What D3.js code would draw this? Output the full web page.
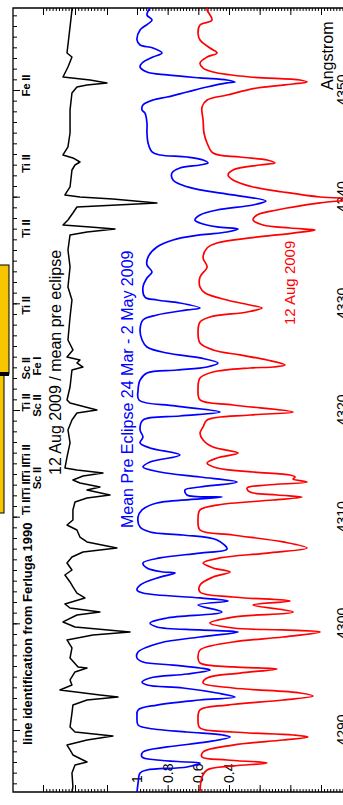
<!DOCTYPE html>
<html>
<head>
<meta charset="utf-8">
<script src="https://cdn.jsdelivr.net/npm/d3@7"></script>
<style>
  html, body { margin: 0; padding: 0; background: #fff; }
  svg { display: block; font-family: "Liberation Sans", Arial, sans-serif; }
</style>
</head>
<body>
<svg id="chart"></svg>
<script>
// wavelength (Angstrom) and normalised flux
const blueWave = [4284.19,4285.03,4285.97,4286.25,4286.53,4286.91,4287.0,4287.19,4287.47,4287.94,4288.41,4288.88,4289.34,4289.53,4289.81,4290.19,4290.47,4291.22,4291.88,4292.34,4292.81,4293.09,4293.47,4293.94,4294.22,4294.5,4294.88,4295.25,4295.63,4295.81,4296.09,4296.38,4296.75,4297.31,4298.16,4298.72,4299.19,4299.38,4299.66,4300.03,4300.5,4301.06,4301.72,4302.09,4302.38,4302.84,4303.13,4303.59,4304.25,4304.72,4304.81,4305.19,4305.66,4306.13,4306.59,4306.97,4307.81,4308.28,4308.56,4309.03,4309.97,4310.63,4311.28,4311.66,4311.84,4312.03,4312.5,4312.78,4313.25,4313.72,4314.19,4314.66,4315.13,4315.78,4316.44,4316.91,4317.47,4318.13,4319.06,4319.44,4319.81,4320.38,4320.94,4321.88,4322.81,4323.47,4323.75,4324.03,4324.41,4324.88,4325.34,4325.91,4326.56,4327.5,4328.44,4328.91,4329.38,4329.56,4330.03,4330.31,4330.59,4331.53,4332.38,4332.94,4333.59,4334.34,4335.28,4335.94,4336.41,4336.69,4336.97,4337.16,4337.53,4337.81,4338.28,4338.75,4339.22,4339.59,4340.16,4340.63,4341.09,4341.56,4342.22,4342.69,4342.97,4343.16,4343.44,4343.72,4343.91,4344.19,4345.03,4345.97,4346.91,4347.84,4348.13,4348.59,4349.06,4349.34,4349.81,4350.28,4350.66,4350.75,4350.94,4351.13,4351.41,4351.69,4352.16,4352.53,4353.09,4353.47,4353.94,4354.22,4354.69,4355.63,4356.56,4357.03,4357.69];
const blueFlux = [1.00,0.993,0.980,0.935,0.674,0.589,0.674,0.870,0.967,0.961,0.804,0.543,0.393,0.439,0.674,0.935,0.993,1.00,0.993,0.870,0.589,0.361,0.478,0.700,0.935,0.967,0.915,0.674,0.524,0.589,0.765,0.961,1.00,0.993,0.850,0.589,0.341,0.589,0.870,0.915,0.804,0.446,0.602,0.406,0.589,0.961,1.00,0.980,0.870,0.752,0.830,0.935,0.961,0.850,0.589,0.413,0.478,0.700,0.915,0.980,0.993,0.967,0.870,0.589,0.446,0.674,0.687,0.589,0.348,0.589,0.850,0.961,0.915,0.720,0.915,0.980,0.961,0.980,0.961,0.720,0.459,0.752,0.987,0.993,0.980,0.935,0.739,0.543,0.472,0.589,0.804,0.935,0.967,0.980,0.961,0.870,0.674,0.589,0.720,0.870,0.948,0.961,0.935,0.902,0.935,0.928,0.870,0.765,0.589,0.413,0.341,0.478,0.589,0.622,0.589,0.478,0.243,0.159,0.374,0.589,0.706,0.765,0.772,0.720,0.589,0.537,0.569,0.674,0.850,0.902,0.928,0.935,0.935,0.948,0.967,0.961,0.896,0.804,0.674,0.543,0.413,0.361,0.413,0.589,0.804,0.935,0.980,0.967,0.896,0.837,0.896,0.980,1.00,0.980,0.902,0.935,0.915];

const redWave = [4284.19,4285.59,4286.25,4286.63,4286.91,4287.19,4287.47,4287.94,4288.59,4289.06,4289.34,4289.53,4289.81,4290.19,4290.94,4291.88,4292.34,4292.81,4293.19,4293.47,4293.94,4294.41,4294.88,4295.34,4295.72,4295.91,4296.28,4296.75,4297.5,4298.25,4298.72,4299.19,4299.38,4299.56,4300.03,4300.59,4301.06,4301.72,4302.09,4302.47,4302.94,4303.59,4304.34,4304.81,4305.19,4305.66,4306.13,4306.59,4307.06,4307.63,4308.28,4308.75,4309.69,4310.63,4311.09,4311.56,4311.84,4312.03,4312.31,4312.69,4312.97,4313.25,4313.53,4313.72,4313.91,4314.19,4314.56,4315.03,4315.5,4315.97,4316.53,4317.19,4317.84,4318.41,4319.06,4319.53,4319.81,4320.47,4320.94,4321.88,4323.0,4323.56,4323.94,4324.03,4324.22,4324.69,4325.16,4325.63,4326.28,4327.22,4328.25,4328.72,4329.19,4329.56,4329.84,4330.31,4330.97,4331.53,4332.47,4333.41,4334.25,4335.19,4335.66,4336.13,4336.59,4336.88,4337.06,4337.34,4337.81,4338.28,4338.75,4339.41,4339.78,4339.97,4340.44,4340.91,4341.56,4342.03,4342.5,4342.97,4343.16,4343.44,4343.72,4344.09,4345.03,4345.97,4347.19,4348.41,4349.06,4349.53,4350.19,4350.56,4350.75,4350.94,4351.22,4351.69,4352.06,4352.53,4353.09,4353.47,4353.94,4354.69,4355.34,4356.09,4356.56,4357.5,4357.69];
const redFlux = [0.589,0.576,0.543,0.374,0.152,0.413,0.576,0.569,0.374,0.048,-0.115,-0.018,0.374,0.589,0.602,0.589,0.413,0.048,-0.148,-0.063,0.374,0.569,0.543,0.328,0.087,0.374,0.589,0.602,0.589,0.374,0.048,-0.194,0.048,0.374,0.524,0.374,-0.018,0.243,0.002,0.374,0.589,0.589,0.504,0.393,0.504,0.569,0.459,0.152,-0.109,0.048,0.374,0.589,0.602,0.589,0.478,0.113,-0.076,0.087,0.263,0.282,0.152,-0.109,-0.018,-0.031,0.002,0.243,0.478,0.543,0.478,0.341,0.504,0.569,0.589,0.569,0.543,0.263,-0.018,0.374,0.589,0.602,0.589,0.504,0.263,0.113,0.035,0.152,0.328,0.504,0.589,0.602,0.589,0.524,0.282,0.185,0.263,0.413,0.556,0.589,0.589,0.543,0.569,0.543,0.478,0.263,-0.018,-0.161,0.002,0.178,0.243,0.217,0.087,-0.194,-0.422,-0.194,0.048,0.243,0.374,0.406,0.374,0.198,0.100,0.152,0.328,0.504,0.543,0.563,0.569,0.576,0.543,0.413,0.217,-0.018,-0.109,-0.063,0.263,0.504,0.569,0.589,0.543,0.478,0.524,0.589,0.602,0.589,0.511,0.543,0.543];

const ratioWave = [4284.19,4284.66,4285.97,4286.72,4287.0,4287.66,4288.13,4288.59,4289.06,4289.44,4289.81,4290.28,4291.59,4292.34,4292.81,4293.09,4293.28,4293.75,4294.22,4294.69,4295.44,4295.81,4295.91,4296.75,4297.69,4298.44,4298.91,4299.19,4299.66,4300.13,4300.78,4301.06,4301.44,4301.81,4302.38,4302.84,4303.41,4303.88,4304.53,4305.0,4305.66,4306.22,4306.69,4307.06,4307.63,4308.09,4308.75,4309.22,4309.69,4310.63,4311.38,4311.75,4312.03,4312.5,4312.78,4313.16,4313.44,4313.81,4314.09,4314.38,4314.56,4315.59,4316.91,4318.13,4319.06,4319.72,4320.0,4320.66,4320.94,4322.16,4323.75,4324.03,4324.41,4324.69,4324.97,4325.63,4326.56,4328.72,4330.31,4331.53,4333.41,4335.0,4336.41,4336.69,4336.97,4337.16,4337.34,4337.81,4338.47,4339.03,4339.41,4339.78,4339.97,4340.16,4340.91,4342.5,4342.97,4343.25,4343.63,4343.91,4344.66,4345.97,4348.13,4349.72,4350.28,4350.47,4350.66,4350.94,4351.22,4352.16,4353.09,4353.47,4355.91,4357.5,4357.69];
const ratioVal = [1.019,1.013,1.019,1.0,0.925,1.013,1.031,1.05,0.925,0.763,1.0,1.031,1.019,1.013,0.925,0.731,0.844,1.094,1.019,1.031,1.0,0.925,0.981,1.031,1.019,1.05,0.888,0.656,1.0,1.075,0.988,0.844,1.031,1.063,0.938,0.988,1.013,1.031,1.063,1.019,1.05,1.019,0.95,0.738,0.925,0.969,0.988,1.05,1.013,1.013,1.0,0.925,0.781,0.925,0.844,0.969,1.013,0.95,0.825,0.988,1.063,1.05,1.031,1.044,1.019,0.988,0.863,1.031,1.05,1.031,1.019,0.95,0.988,0.969,1.05,1.013,1.044,1.031,1.019,1.044,1.031,1.044,1.031,0.925,0.75,0.906,1.075,1.044,1.013,0.988,0.488,0.763,0.969,1.063,1.031,1.019,1.0,0.969,1.013,1.075,1.044,1.031,1.031,1.019,0.988,0.925,0.8,0.906,1.075,1.044,1.019,1.05,1.031,1.019,1.019];

const waveTicks = [4290, 4300, 4310, 4320, 4330, 4340, 4350];
const fluxTickLabels = [1, 0.8, 0.6, 0.4];
const fluxMajor = [1, 0.8, 0.6, 0.4, 0.2, 0, -0.2, -0.4];
const ratioMajor = [1.2, 1.0, 0.8];

// line identifications (Ferluga 1990): [wavelength, label, row]
const lineIds = [
  [4311.0, 'Ti II', 0], [4312.7, 'Ti II', 0], [4314.3, 'Ti II', 0], [4315.9, 'Ti II', 0],
  [4313.6, 'Sc II', 1], [4320.7, 'Ti II', 0], [4320.4, 'Sc II', 1],
  [4323.9, 'Sc II', 0], [4324.1, 'Fe I', 1], [4329.8, 'Ti II', 0],
  [4337.0, 'Ti II', 0], [4343.1, 'Ti II', 0], [4350.4, 'Fe II', 0]
];

const width = 343, height = 805;
const plotTop = 8, plotBottom = 792, plotLeft = 13;

const svg = d3.select('#chart').attr('width', width).attr('height', height);

const yWave = d3.scaleLinear().domain([4290, 4350]).range([730, 90]);
const xFlux = d3.scaleLinear().domain([1, 0.4]).range([137, 229]);
const xRatio = d3.scaleLinear().domain([1.2, 0.8]).range([43, 107]);

svg.append('defs').append('clipPath').attr('id', 'plot')
  .append('rect').attr('x', plotLeft).attr('y', plotTop)
  .attr('width', width - plotLeft).attr('height', plotBottom - plotTop);

// yellow box cut off at the left edge
svg.append('rect').attr('x', -6).attr('y', 374).attr('width', 10).attr('height', 139)
  .attr('fill', '#f7c600').attr('stroke', '#000').attr('stroke-width', 1);
svg.append('rect').attr('x', -6).attr('y', 265).attr('width', 15).attr('height', 109)
  .attr('fill', '#f7c600').attr('stroke', '#000').attr('stroke-width', 1);
svg.append('rect').attr('x', 0).attr('y', 372).attr('width', 9).attr('height', 4).attr('fill', '#000');

// frame
svg.append('path')
  .attr('d', `M${width},${plotTop}H${plotLeft}V${plotBottom}H${width}`)
  .attr('fill', 'none').attr('stroke', '#000').attr('stroke-width', 1.3);

function tickAxis(axis, y) {
  const g = svg.append('g').attr('transform', `translate(0,${y})`).call(axis);
  g.select('.domain').remove();
  g.selectAll('line').attr('stroke', '#000');
  g.selectAll('text').remove();
}

const fluxMinor = d3.range(0, 71).map(i => 1 - i * 0.02);
const ratioMinor = d3.range(0, 21).map(i => 1.2 - i * 0.02);

tickAxis(d3.axisTop(xFlux).tickValues(fluxMinor).tickSize(3), plotBottom);
tickAxis(d3.axisTop(xFlux).tickValues(fluxMajor).tickSize(7), plotBottom);
tickAxis(d3.axisBottom(xFlux).tickValues(fluxMinor).tickSize(3), plotTop);
tickAxis(d3.axisBottom(xFlux).tickValues(fluxMajor).tickSize(7), plotTop);
tickAxis(d3.axisTop(xRatio).tickValues(ratioMinor).tickSize(3), plotBottom);
tickAxis(d3.axisTop(xRatio).tickValues(ratioMajor).tickSize(7), plotBottom);
tickAxis(d3.axisBottom(xRatio).tickValues(ratioMinor).tickSize(3), plotTop);
tickAxis(d3.axisBottom(xRatio).tickValues(ratioMajor).tickSize(7), plotTop);

const waveAxis = svg.append('g').attr('transform', `translate(${plotLeft},0)`)
  .call(d3.axisRight(yWave).tickValues(d3.range(4285, 4358)).tickSize(4).tickFormat(''));
waveAxis.select('.domain').remove();
const waveAxisMaj = svg.append('g').attr('transform', `translate(${plotLeft},0)`)
  .call(d3.axisRight(yWave).tickValues(waveTicks).tickSize(7).tickFormat(''));
waveAxisMaj.select('.domain').remove();

// tick labels (the wavelength labels run off the right edge, as in the original)
svg.selectAll('.flabel').data(fluxTickLabels).enter().append('text')
  .attr('class', 'flabel')
  .attr('transform', d => `translate(${xFlux(d)},783) rotate(-90)`)
  .attr('dy', '0.35em')
  .attr('font-size', 14)
  .text(d => d === 1 ? '1' : d3.format('.1f')(d));

svg.selectAll('.wlabel').data(waveTicks).enter().append('text')
  .attr('class', 'wlabel')
  .attr('transform', d => `translate(342,${yWave(d)}) rotate(-90)`)
  .attr('dy', '0.35em')
  .attr('text-anchor', 'middle')
  .attr('font-size', 14)
  .text(d => d);

svg.append('text').attr('transform', 'translate(333,90) rotate(-90)')
  .attr('font-size', 16).text('Angstrom');

// spectra
const plot = svg.append('g').attr('clip-path', 'url(#plot)');
const fluxLine = d3.line().curve(d3.curveCatmullRom.alpha(0.5))
  .x(d => xFlux(d[1])).y(d => yWave(d[0]));
const ratioLine = d3.line().x(d => xRatio(d[1])).y(d => yWave(d[0]));

plot.append('path').datum(d3.zip(blueWave, blueFlux))
  .attr('d', fluxLine).attr('fill', 'none').attr('stroke', '#0000ff').attr('stroke-width', 1.7);
plot.append('path').datum(d3.zip(redWave, redFlux))
  .attr('d', fluxLine).attr('fill', 'none').attr('stroke', '#ff0000').attr('stroke-width', 1.7);
plot.append('path').datum(d3.zip(ratioWave, ratioVal))
  .attr('d', ratioLine).attr('fill', 'none').attr('stroke', '#000').attr('stroke-width', 1.5)
  .attr('stroke-linejoin', 'round');

// annotations
svg.append('text').attr('transform', 'translate(31.5,745) rotate(-90)')
  .attr('font-size', 13).attr('font-weight', 'bold')
  .text('line identification from Ferluga 1990');

svg.selectAll('.lineid').data(lineIds).enter().append('text')
  .attr('class', 'lineid')
  .attr('transform', d => `translate(${d[2] === 0 ? 29.5 : 41},${yWave(d[0])}) rotate(-90)`)
  .attr('text-anchor', 'middle')
  .attr('font-size', 11.5).attr('font-weight', 'bold')
  .attr('letter-spacing', -0.3)
  .text(d => d[1]);

svg.append('text').attr('transform', 'translate(61,475) rotate(-90)')
  .attr('font-size', 16).text('12 Aug 2009 / mean pre eclipse');

svg.append('text').attr('transform', 'translate(133,528) rotate(-90)')
  .attr('font-size', 16).attr('fill', '#0000ff').text('Mean Pre Eclipse 24 Mar - 2 May 2009');

svg.append('text').attr('transform', 'translate(295,325) rotate(-90)')
  .attr('font-size', 15).attr('fill', '#ff0000').text('12 Aug 2009');
</script>
</body>
</html>
